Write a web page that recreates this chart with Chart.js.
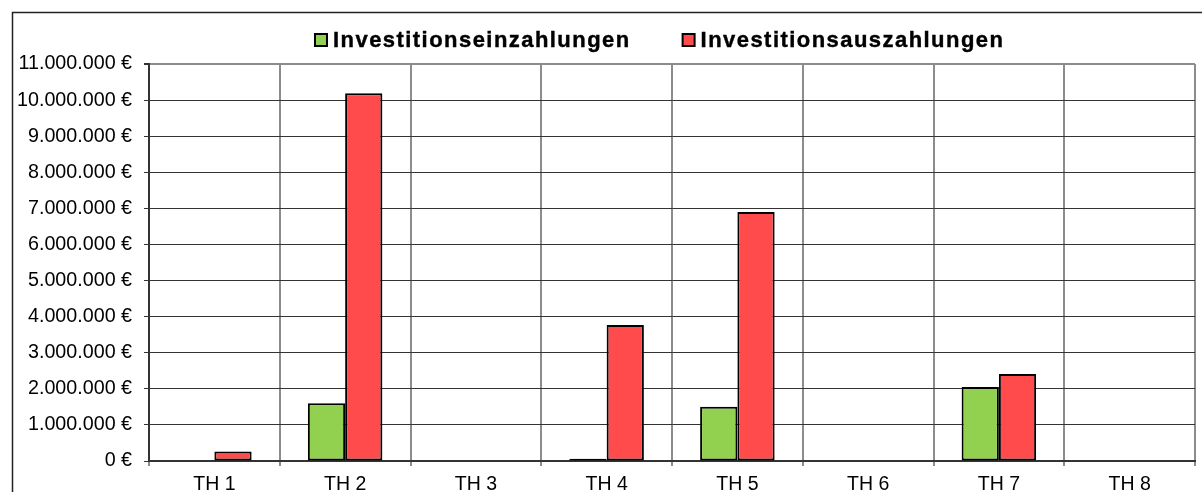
<!DOCTYPE html>
<html>
<head>
<meta charset="utf-8">
<script src="https://cdn.jsdelivr.net/npm/chart.js@4/dist/chart.umd.min.js"></script>
<style>
  html, body { margin: 0; padding: 0; background: #fff; }
  #wrap { width: 1202px; height: 492px; position: relative; }
</style>
</head>
<body>
<div id="wrap"><canvas id="c" width="1202" height="492"></canvas></div>
<script>
const categories = ['TH 1', 'TH 2', 'TH 3', 'TH 4', 'TH 5', 'TH 6', 'TH 7', 'TH 8'];
const einzahlungen = [0, 1600000, 0, 60000, 1500000, 0, 2050000, 0];
const auszahlungen = [260000, 10190000, 0, 3770000, 6900000, 0, 2410000, 0];
const seriesNames = ['Investitionseinzahlungen', 'Investitionsauszahlungen'];
const seriesColors = ['#92D050', '#FF4B4B'];
const yMin = 0, yMax = 11000000, yStep = 1000000;

function euro(v) {
  return String(Math.round(v)).replace(/\B(?=(\d{3})+(?!\d))/g, '.') + ' \u20AC';
}

const FONT = '"Liberation Sans", Arial, sans-serif';

const framePlugin = {
  id: 'frame',
  beforeDraw(chart) {
    const ctx = chart.ctx;
    ctx.save();
    ctx.fillStyle = '#fff';
    ctx.fillRect(0, 0, chart.width, chart.height);
    ctx.restore();
  },
  afterDraw(chart) {
    const ctx = chart.ctx;
    ctx.save();
    ctx.strokeStyle = '#222';
    ctx.lineWidth = 1.5;
    ctx.strokeRect(12.5, 12.5, 1220, 520);
    ctx.restore();
  }
};

const legendPlugin = {
  id: 'customLegend',
  afterDraw(chart) {
    const ctx = chart.ctx;
    ctx.save();
    ctx.font = 'bold 22px ' + FONT;
    try { ctx.letterSpacing = '1.45px'; } catch (e) {}
    ctx.textBaseline = 'alphabetic';
    ctx.textAlign = 'left';
    let x = 315;
    chart.data.datasets.forEach((ds) => {
      ctx.fillStyle = ds.backgroundColor;
      ctx.fillRect(x, 34, 12, 12);
      ctx.strokeStyle = '#000';
      ctx.lineWidth = 2;
      ctx.strokeRect(x, 34, 12, 12);
      ctx.fillStyle = '#000';
      ctx.strokeStyle = '#000';
      ctx.lineWidth = 0.4;
      const tx = x + 18;
      ctx.fillText(ds.label, tx, 46.5);
      ctx.strokeText(ds.label, tx, 46.5);
      const w = ctx.measureText(ds.label).width;
      x = tx + w + 52;
    });
    ctx.restore();
  }
};

new Chart(document.getElementById('c'), {
  type: 'bar',
  data: {
    labels: categories,
    datasets: [
      { label: seriesNames[0], data: einzahlungen, backgroundColor: seriesColors[0], borderColor: '#000', borderWidth: 2, borderSkipped: false },
      { label: seriesNames[1], data: auszahlungen, backgroundColor: seriesColors[1], borderColor: '#000', borderWidth: 2, borderSkipped: false }
    ]
  },
  options: {
    responsive: false,
    animation: false,
    devicePixelRatio: 1,
    layout: { padding: { left: 0, right: 7, top: 64, bottom: 0 } },
    plugins: {
      legend: { display: false },
      tooltip: { enabled: false },
      title: { display: false }
    },
    datasets: { bar: { categoryPercentage: 0.57, barPercentage: 1.0 } },
    scales: {
      x: {
        offset: true,
        grid: { offset: true, color: '#8c8c8c', lineWidth: 2, tickLength: 5, drawTicks: true },
        border: { color: '#333', width: 2 },
        ticks: { color: '#000', font: { family: FONT, size: 19.5 }, padding: 7, maxRotation: 0 },
        afterFit(scale) { scale.height = 31; }
      },
      y: {
        min: yMin, max: yMax,
        grid: {
          color: (c) => (c.tick && c.tick.value === yMax) ? '#8c8c8c' : '#333',
          lineWidth: (c) => (c.tick && c.tick.value === yMax) ? 2 : 1,
          tickLength: 5,
          tickColor: '#333'
        },
        border: { color: '#333', width: 2 },
        ticks: {
          stepSize: yStep,
          autoSkip: false,
          color: '#000',
          font: { family: FONT, size: 19.7 },
          padding: 12,
          callback: (v) => euro(v)
        },
        afterFit(scale) { scale.width = 149; }
      }
    }
  },
  plugins: [framePlugin, legendPlugin]
});
</script>
</body>
</html>
